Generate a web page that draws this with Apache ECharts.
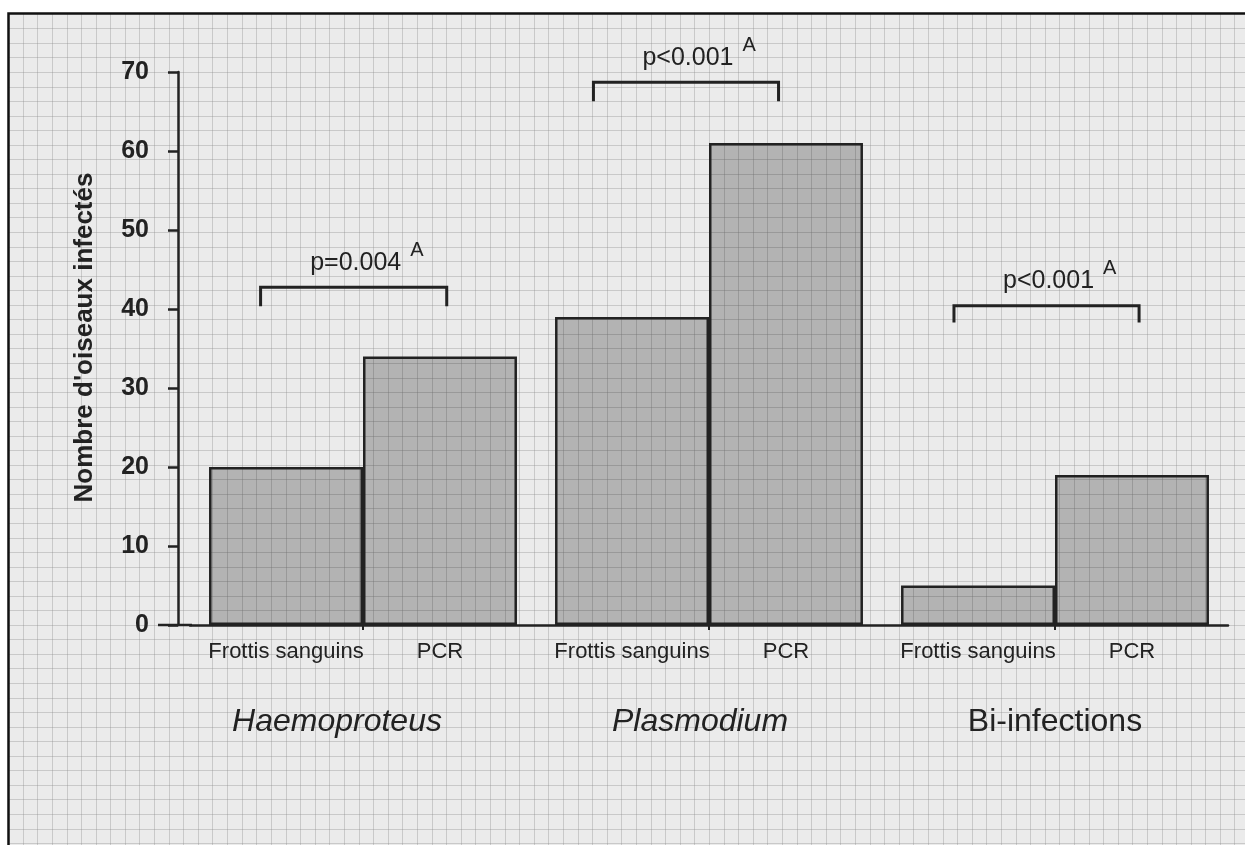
<!DOCTYPE html>
<html><head><meta charset="utf-8">
<script src="https://cdn.jsdelivr.net/npm/echarts@6/dist/echarts.min.js"></script>
<style>
html,body{margin:0;padding:0;background:#fff;width:1245px;height:845px;overflow:hidden}
#bg{position:absolute;left:0;top:0;width:1245px;height:845px}
#chart{position:absolute;left:0;top:0;width:1245px;height:845px}
</style></head><body>
<canvas id="bg" width="1245" height="845"></canvas><div id="chart"></div>
<script>
// ---- data ----
const groups = ['Haemoproteus', 'Plasmodium', 'Bi-infections'];
const methods = ['Frottis sanguins', 'PCR'];
const frottisValues = [20, 39, 5];
const pcrValues = [34, 61, 19];
const yMin = 0, yMax = 70, yStep = 10;
const pLabels = ['p=0.004', 'p<0.001', 'p<0.001'];
const pSuperscripts = ['A', 'A', 'A'];
// bracket extents in group units (0..3) and heights in y units
const bracketLeft = [0.204, 1.166, 2.208];
const bracketRight = [0.742, 1.701, 2.743];
const bracketTop = [42.75, 68.7, 40.4];
const bracketLeg = [2.4, 2.4, 2.1];

const FONT = "'Liberation Sans', Arial, Helvetica, sans-serif";
const INK = '#222';

// ---- graph-paper background with frame ----
(function () {
  const c = document.getElementById('bg').getContext('2d');
  c.fillStyle = '#fff'; c.fillRect(0, 0, 1245, 845);
  c.fillStyle = '#ebebeb'; c.fillRect(8, 13, 1245, 845);
  c.strokeStyle = 'rgba(140,140,140,0.36)'; c.lineWidth = 1;
  c.beginPath();
  for (let x = 22.7; x < 1245; x += 14.6) { const px = Math.round(x) + 0.5; c.moveTo(px, 13); c.lineTo(px, 845); }
  for (let y = 28.3; y < 845; y += 14.55) { const py = Math.round(y) + 0.5; c.moveTo(8, py); c.lineTo(1245, py); }
  c.stroke();
  c.strokeStyle = '#111'; c.lineWidth = 2.5;
  c.beginPath(); c.moveTo(8.5, 845); c.lineTo(8.5, 13.5); c.lineTo(1245, 13.5); c.stroke();
})();

const measureCtx = document.createElement('canvas').getContext('2d');
function textWidth(t, size) { measureCtx.font = size + 'px ' + FONT; return measureCtx.measureText(t).width; }

const bracketData = groups.map((g, i) => [bracketLeft[i], bracketRight[i], bracketTop[i], bracketLeg[i]]);

const chart = echarts.init(document.getElementById('chart'), null, { renderer: 'canvas' });

const barStyle = { color: 'rgba(0,0,0,0.235)', borderColor: INK, borderWidth: 2.5 };
const barLabel = { show: true, position: 'bottom', distance: 16, formatter: p => p.seriesName,
  fontSize: 22, color: INK, fontFamily: FONT };

chart.setOption({
  backgroundColor: 'transparent',
  animation: false,
  grid: [
    { left: 190, right: 17, top: 72, bottom: 220, containLabel: false },
    { left: 178, right: 17, top: 72, bottom: 220, containLabel: false }
  ],
  xAxis: [{
    type: 'category', data: groups, gridIndex: 0,
    axisLine: { lineStyle: { color: INK, width: 2.5 } },
    axisTick: { show: true, alignWithLabel: true, length: 5, lineStyle: { color: INK, width: 2 } },
    axisLabel: {
      interval: 0, hideOverlap: false,
      margin: 81, color: INK, fontFamily: FONT, fontSize: 32,
      formatter: (v, i) => '{g' + i + '|' + v + '}',
      rich: {
        g0: { fontStyle: 'italic', fontSize: 32, fontFamily: FONT, color: INK, padding: [0, 52, 0, 0] },
        g1: { fontStyle: 'italic', fontSize: 32, fontFamily: FONT, color: INK, padding: [0, 18, 0, 0] },
        g2: { fontStyle: 'normal', fontSize: 32, fontFamily: FONT, color: INK }
      }
    }
  }, {
    type: 'value', min: 0, max: groups.length, show: false, gridIndex: 0
  }, {
    type: 'value', min: 0, max: 1, show: false, gridIndex: 1
  }],
  yAxis: [{
    type: 'value', min: yMin, max: yMax, interval: yStep, gridIndex: 0, show: false
  }, {
    type: 'value', min: yMin, max: yMax, interval: yStep, gridIndex: 1,
    name: "Nombre d'oiseaux infectés", nameLocation: 'middle', nameGap: 80,
    nameTextStyle: { fontWeight: 'bold', fontSize: 26, color: INK, fontFamily: FONT, padding: [0, 0, 0, 22] },
    axisLine: { show: true, lineStyle: { color: INK, width: 2.5 } },
    axisTick: { show: true, length: 10, lineStyle: { color: INK, width: 2.5 } },
    axisLabel: { margin: 29, fontWeight: 'bold', fontSize: 25, color: INK, fontFamily: FONT },
    splitLine: { show: false }
  }],
  series: [
    { name: methods[0], type: 'bar', xAxisIndex: 0, yAxisIndex: 0, data: frottisValues, barWidth: '44.5%', barGap: '0%', itemStyle: barStyle, label: barLabel },
    { name: methods[1], type: 'bar', xAxisIndex: 0, yAxisIndex: 0, data: pcrValues, barWidth: '44.5%', barGap: '0%', itemStyle: barStyle, label: barLabel },
    {
      type: 'custom', xAxisIndex: 1, yAxisIndex: 0, data: bracketData, silent: true, z: 10,
      renderItem: (params, api) => {
        const i = params.dataIndex;
        const top = api.value(2), leg = api.value(3);
        const l = api.coord([api.value(0), top]);
        const r = api.coord([api.value(1), top]);
        const lb = api.coord([api.value(0), top - leg]);
        const rb = api.coord([api.value(1), top - leg]);
        const cx = (l[0] + r[0]) / 2 + 2;
        const w = textWidth(pLabels[i], 25);
        return { type: 'group', children: [
          { type: 'polyline', shape: { points: [lb, l, r, rb] }, style: { stroke: INK, lineWidth: 3, fill: null } },
          { type: 'text', style: { text: pLabels[i], x: cx, y: l[1] - 12, align: 'center', verticalAlign: 'bottom',
              fontSize: 25, fontFamily: FONT, fill: INK } },
          { type: 'text', style: { text: pSuperscripts[i], x: cx + w / 2 + 9, y: l[1] - 27, align: 'left', verticalAlign: 'bottom',
              fontSize: 20, fontFamily: FONT, fill: INK } }
        ] };
      }
    }
  ]
});

// extend the x axis line a little to the left of the y axis, like the original
const y0 = chart.convertToPixel({ yAxisIndex: 0 }, yMin);
const yAxisX = chart.convertToPixel({ xAxisIndex: 2 }, 0);
chart.setOption({ graphic: [{ type: 'line', shape: { x1: yAxisX - 20, y1: y0, x2: yAxisX + 14, y2: y0 },
  style: { stroke: INK, lineWidth: 2.5 }, z: 5 }] });
</script>
</body></html>
